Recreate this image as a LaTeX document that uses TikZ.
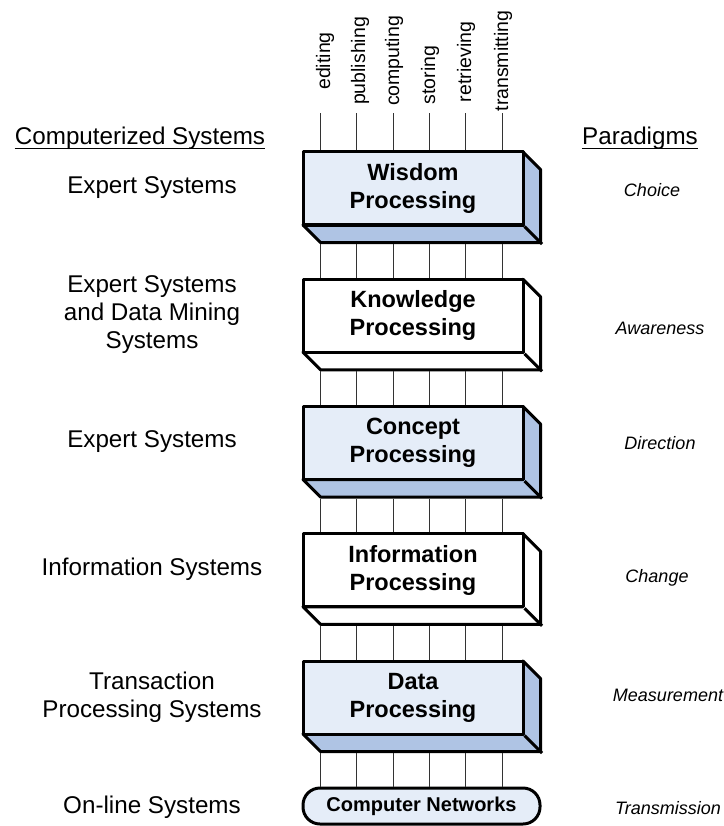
\documentclass[tikz,border=0pt]{standalone}
\usepackage{fontspec}
\setmainfont{Liberation Sans}
\usetikzlibrary{calc}
\definecolor{frontblue}{HTML}{E5EDF8}
\definecolor{sideblue}{HTML}{AFC4E4}
\definecolor{linegray}{HTML}{333333}
\tikzset{
  boxline/.style={draw=black, line width=3pt, line join=round},
  front/.style={boxline, minimum width=220pt, minimum height=73pt, inner sep=0pt, align=center,
    font=\fontsize{23.5}{28}\selectfont\bfseries},
  conn/.style={draw=linegray, line width=1pt},
  lefttext/.style={align=center, font=\fontsize{24.2}{28}\selectfont, inner sep=0pt},
  righttext/.style={align=center, font=\fontsize{18}{22}\selectfont\itshape, inner sep=0pt},
  head/.style={font=\fontsize{24.2}{28}\selectfont, inner sep=0pt, anchor=base},
  toplabel/.style={rotate=90, font=\fontsize{19.5}{22}\selectfont, inner sep=0pt},
  ul/.style={draw=black, line width=1.6pt},
}
% #1 name, #2 center y, #3 front fill, #4 side fill, #5 text
\newcommand{\procbox}[5]{%
  \path (413,#2) coordinate (#1c);
  \filldraw[boxline, fill=#4] ($(#1c)+(110,-36.5)$) -- ++(17.5,17.5) -- ++(0,73) -- ++(-220,0)
     -- ++(-17.5,-17.5) -- ++(220,0) -- cycle;
  \node[front, fill=#3] (#1) at (#1c) {#5};
  \draw[boxline] (#1.south east) -- ++(17.5,17.5);
}
% connectors between box #1 and box #2
\newcommand{\links}[2]{%
  \foreach \k in {0,...,5}{
    \path ($(#1.south west)+(19+\k*36.3,17.5)$) coordinate (a\k);
    \draw[conn] (a\k) -- (a\k |- #2.north);
  }
}
\begin{document}
\begin{tikzpicture}[x=1pt,y=-1pt]
\useasboundingbox (0,0) rectangle (723,826);
\fill[white] (0,0) rectangle (723,826);

% top labels
\node[toplabel] (l0) at (325,61) {editing};
\node[toplabel] (l1) at (360,61) {publishing};
\node[toplabel] (l2) at (394,61) {computing};
\node[toplabel] (l3) at (430,75) {storing};
\node[toplabel] (l4) at (466,62) {retrieving};
\node[toplabel] (l5) at (503,61) {transmitting};

% boxes
\procbox{wis}{188.5}{frontblue}{sideblue}{Wisdom\\Processing}
\procbox{kno}{315.75}{white}{white}{Knowledge\\Processing}
\procbox{con}{443}{frontblue}{sideblue}{Concept\\Processing}
\procbox{inf}{570.25}{white}{white}{Information\\Processing}
\procbox{dat}{697.5}{frontblue}{sideblue}{Data\\Processing}
\node[boxline, fill=frontblue, minimum width=237pt, minimum height=36pt, rounded corners=17pt,
  inner sep=0pt, font=\fontsize{20}{24}\selectfont\bfseries] (net) at (421.5,806) {Computer Networks};

% connectors
\foreach \k in {0,...,5}{
  \path ($(wis.north west)+(19+\k*36.3,-37)$) coordinate (top\k);
  \draw[conn] (top\k) -- (top\k |- wis.north);
}
\links{wis}{kno}
\links{kno}{con}
\links{con}{inf}
\links{inf}{dat}
\links{dat}{net}

% headings
\node[head] (cs) at (140,145) {Computerized Systems};
\draw[ul] ([yshift=-3.5pt]cs.base west) -- ([yshift=-3.5pt]cs.base east);
\node[head] (pd) at (640,145) {Paradigms};
\draw[ul] ([yshift=-3.5pt]pd.base west) -- ([yshift=-3.5pt]pd.base east);

% left texts
\node[lefttext] (s1) at (152,188) {Expert Systems};
\node[lefttext] (s2) at (152,315) {Expert Systems\\and Data Mining\\Systems};
\node[lefttext] (s3) at (152,442) {Expert Systems};
\node[lefttext] (s4) at (152,569) {Information Systems};
\node[lefttext] (s5) at (152,697) {Transaction\\Processing Systems};
\node[lefttext] (s6) at (152,807) {On-line Systems};

% right texts
\node[righttext] (p1) at (652,190) {Choice};
\node[righttext] (p2) at (660,328) {Awareness};
\node[righttext] (p3) at (660,443) {Direction};
\node[righttext] (p4) at (657,578) {Change};
\node[righttext] (p5) at (668,695) {Measurement};
\node[righttext] (p6) at (668,808) {Transmission};
\end{tikzpicture}
\end{document}
